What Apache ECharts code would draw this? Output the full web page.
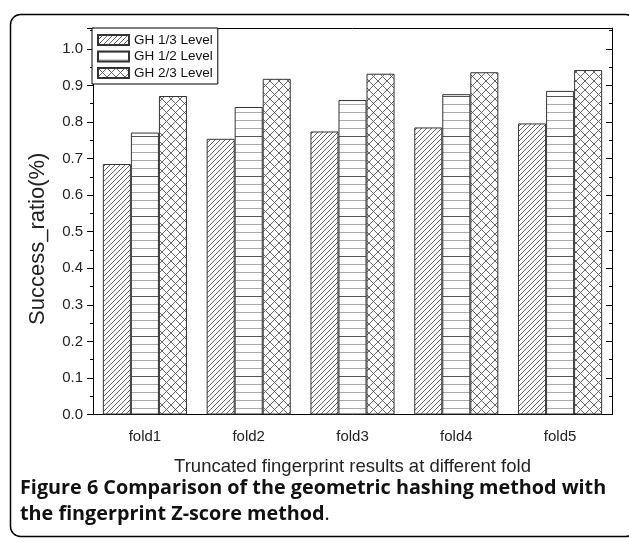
<!DOCTYPE html>
<html lang="en">
<head>
    <meta charset="UTF-8">
    <title>Figure 6</title>
    <script src="https://cdn.jsdelivr.net/npm/echarts@6/dist/echarts.min.js"></script>
    <style>
        html, body { margin: 0; padding: 0; background: #fff; }
    </style>
</head>
<body>
<div id="main" style="width: 629px; height: 542px;"></div>
<script type="text/javascript">
    // data
    var folds = ['fold1', 'fold2', 'fold3', 'fold4', 'fold5'];
    var level13 = [0.685, 0.754, 0.774, 0.785, 0.796];
    var level12 = [0.771, 0.841, 0.860, 0.876, 0.885];
    var level23 = [0.871, 0.918, 0.932, 0.936, 0.942];
    var seriesNames = ['GH 1/3 Level', 'GH 1/2 Level', 'GH 2/3 Level'];
    var yTicks = ['0.0', '0.1', '0.2', '0.3', '0.4', '0.5', '0.6', '0.7', '0.8', '0.9', '1.0'];

    // fill patterns like the Origin hatches
    function tile(w, h, draw) {
        var c = document.createElement('canvas');
        c.width = w; c.height = h;
        var ctx = c.getContext('2d');
        ctx.fillStyle = '#fff';
        ctx.fillRect(0, 0, w, h);
        draw(ctx);
        return {image: c, repeat: 'repeat'};
    }
    var hatch = tile(5, 5, function (ctx) {
        ctx.strokeStyle = '#555';
        ctx.lineWidth = 0.9;
        ctx.beginPath();
        ctx.moveTo(-1, 6); ctx.lineTo(6, -1);
        ctx.moveTo(-1, 1); ctx.lineTo(1, -1);
        ctx.moveTo(4, 6); ctx.lineTo(6, 4);
        ctx.stroke();
    });
    var hlines = tile(4, 40, function (ctx) {
        ctx.lineWidth = 1;
        for (var i = 0; i < 5; i++) {
            ctx.strokeStyle = i === 2 ? '#555' : '#aaa';
            ctx.beginPath();
            ctx.moveTo(0, i * 8 + 0.5); ctx.lineTo(4, i * 8 + 0.5);
            ctx.stroke();
        }
    });
    var cross = tile(9, 9, function (ctx) {
        ctx.strokeStyle = '#555';
        ctx.lineWidth = 0.9;
        ctx.beginPath();
        ctx.moveTo(0, 0); ctx.lineTo(9, 9);
        ctx.moveTo(0, 9); ctx.lineTo(9, 0);
        ctx.stroke();
    });

    var font = 'Liberation Sans';
    var yMax = 1.057;

    var myChart = echarts.init(document.getElementById('main'));

    function bar(name, data, fill) {
        return {
            name: name,
            type: 'bar',
            data: data,
            barGap: 0,
            barCategoryGap: '19%',
            itemStyle: {color: fill, borderColor: '#333', borderWidth: 1}
        };
    }

    var option = {
        backgroundColor: '#fff',
        animation: false,
        grid: {left: 93, right: 17, top: 28, bottom: 127.5},
        legend: {
            orient: 'vertical',
            left: 92, top: 28,
            padding: [5, 5, 4, 5],
            itemGap: 2.5,
            itemWidth: 31,
            itemHeight: 10,
            icon: 'rect',
            borderColor: '#000',
            borderWidth: 1,
            backgroundColor: '#fff',
            textStyle: {fontFamily: font, fontSize: 13.5, color: '#111'},
            data: seriesNames
        },
        xAxis: [
            {
                type: 'category', position: 'bottom', data: folds,
                name: 'Truncated fingerprint results at different fold',
                nameLocation: 'middle', nameGap: 43,
                nameTextStyle: {fontFamily: font, fontSize: 18.5, color: '#222'},
                axisLine: {lineStyle: {color: '#000', width: 1}},
                axisTick: {alignWithLabel: true, length: 6, lineStyle: {color: '#000'}},
                axisLabel: {fontFamily: font, fontSize: 15, color: '#222', margin: 15}
            },
            {
                type: 'category', position: 'bottom', data: folds,
                axisLine: {show: false},
                axisTick: {length: 3, lineStyle: {color: '#000'}},
                axisLabel: {show: false}
            },
            {
                type: 'category', position: 'top', data: folds,
                axisLine: {lineStyle: {color: '#000', width: 1}},
                axisTick: {alignWithLabel: true, inside: true, length: 6, lineStyle: {color: '#000'}},
                axisLabel: {show: false}
            },
            {
                type: 'category', position: 'top', data: folds,
                axisLine: {show: false},
                axisTick: {inside: true, length: 6, lineStyle: {color: '#000'}},
                axisLabel: {show: false}
            }
        ],
        yAxis: [
            {
                type: 'value', position: 'left', min: 0, max: yMax, interval: 0.1,
                name: 'Success_ratio(%)', nameLocation: 'middle', nameGap: 44,
                nameTextStyle: {fontFamily: font, fontSize: 22, color: '#222', padding: [0, 35, 0, 0]},
                axisLine: {show: true, lineStyle: {color: '#000', width: 1}},
                axisTick: {show: true, length: 6, lineStyle: {color: '#000'}},
                minorTick: {show: true, splitNumber: 2, length: 3, lineStyle: {color: '#000'}},
                splitLine: {show: false},
                axisLabel: {
                    fontFamily: font, fontSize: 15, color: '#222', margin: 10, showMaxLabel: false,
                    formatter: function (v) {
                        var i = Math.round(v * 10);
                        return Math.abs(v * 10 - i) < 1e-6 ? yTicks[i] : '';
                    }
                }
            },
            {
                type: 'value', position: 'right', min: 0, max: yMax, interval: 0.1,
                axisLine: {show: true, lineStyle: {color: '#000', width: 1}},
                axisTick: {show: true, inside: true, length: 6, lineStyle: {color: '#000'}},
                minorTick: {show: true, splitNumber: 2, length: 3, lineStyle: {color: '#000'}},
                splitLine: {show: false},
                axisLabel: {show: false}
            }
        ],
        series: [
            bar(seriesNames[0], level13, hatch),
            bar(seriesNames[1], level12, hlines),
            bar(seriesNames[2], level23, cross)
        ],
        graphic: [
            {
                type: 'rect', left: 8, top: 12, z: -1, silent: true,
                shape: {width: 625, height: 522, r: 10},
                style: {fill: 'none', stroke: '#000', lineWidth: 1.5}
            },
            {
                type: 'text', left: 20, top: 478,
                style: {
                    text: 'Figure 6 Comparison of the geometric hashing method with',
                    font: 'bold 19.8px "Open Sans"', fill: '#111'
                }
            },
            {
                type: 'text', left: 20, top: 504,
                style: {
                    text: '{b|the fingerprint Z-score method}{n|.}',
                    rich: {
                        b: {font: 'bold 19.8px "Open Sans"', fill: '#111'},
                        n: {font: '19.8px "Open Sans"', fill: '#111'}
                    }
                }
            }
        ]
    };

    myChart.setOption(option);
</script>
</body>
</html>
